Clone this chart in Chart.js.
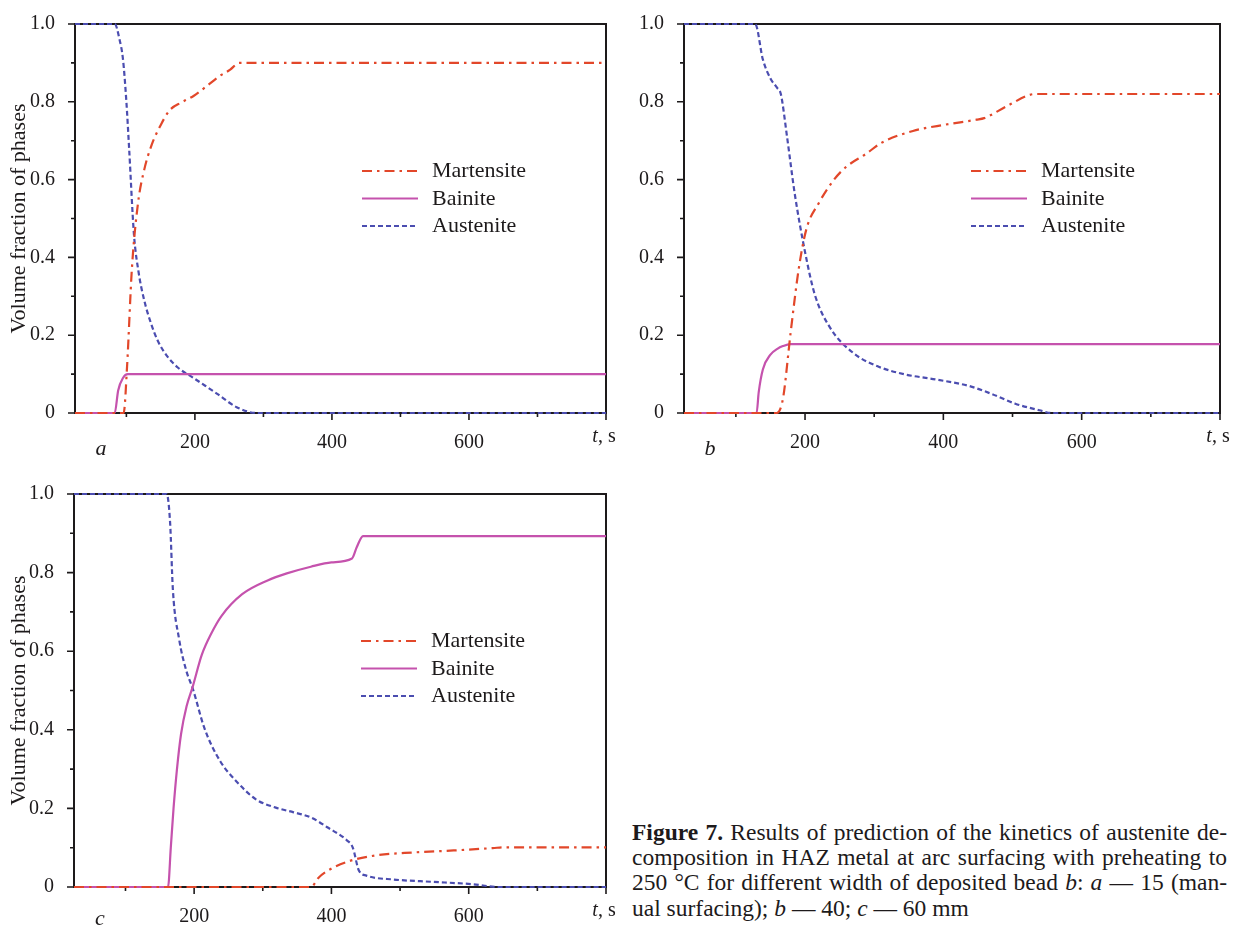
<!DOCTYPE html>
<html>
<head>
<meta charset="utf-8">
<title>Figure 7</title>
<script src="https://cdn.jsdelivr.net/npm/chart.js@4.4.0/dist/chart.umd.min.js"></script>
<style>
  html, body { margin: 0; padding: 0; background: #fff; }
  body { width: 1235px; height: 928px; position: relative; overflow: hidden;
         font-family: 'Liberation Serif', 'Times New Roman', serif; color: #1d1a1b; }
  canvas { position: absolute; }
  .cap { position: absolute; left: 632px; width: 595px; font-size: 23.5px; line-height: 25px; }
  .just { text-align: justify; text-align-last: justify; }
</style>
</head>
<body>
<canvas id="panelA" width="617" height="470" style="left:0;top:0"></canvas>
<canvas id="panelB" width="618" height="470" style="left:617px;top:0"></canvas>
<canvas id="panelC" width="617" height="458" style="left:0;top:470px"></canvas>

<div class="cap just" style="top:820px"><b>Figure 7.</b> Results of prediction of the kinetics of austenite de-</div>
<div class="cap just" style="top:845px">composition in HAZ metal at arc surfacing with preheating to</div>
<div class="cap just" style="top:870px">250 °C for different width of deposited bead <i>b</i>: <i>a</i> — 15 (man-</div>
<div class="cap" style="top:896px">ual surfacing); <i>b</i> — 40; <i>c</i> — 60 mm</div>

<script>
const INK = '#1d1a1b';
const FONT = "'Liberation Serif', 'Times New Roman', serif";
const COLOR_M = '#e2472a';
const COLOR_B = '#c552ad';
const COLOR_A = '#4b4db0';

// Axis ticks: time t, s and volume fraction
const timeTicks = [100, 200, 300, 400, 500, 600, 700, 800];
const timeLabels = [200, 400, 600];
const fracTicks = [0, 0.1, 0.2, 0.3, 0.4, 0.5, 0.6, 0.7, 0.8, 0.9, 1.0];
const fracLabels = ['0', '0.2', '0.4', '0.6', '0.8', '1.0'];
const phaseNames = ['Martensite', 'Bainite', 'Austenite'];

// Panel a: bead width 15 mm (manual surfacing) — [t, fraction]
const martensiteA = [[25,0],[96,0],[101,0.12],[108,0.37],[117,0.54],[126,0.625],[137,0.69],[150,0.74],
  [163,0.778],[180,0.798],[198,0.815],[217,0.84],[235,0.865],[251,0.882],[265,0.9],[800,0.9]];
const bainiteA = [[25,0],[83,0],[88,0.058],[95,0.09],[102,0.1],[800,0.1]];
const austeniteA = [[25,1],[83,1],[90,0.96],[95,0.91],[100,0.8],[104,0.68],[111,0.46],[118,0.36],
  [126,0.29],[136,0.23],[146,0.185],[160,0.145],[175,0.117],[198,0.09],[215,0.07],[232,0.05],
  [261,0.015],[290,0],[800,0]];

// Panel b: bead width 40 mm
const martensiteB = [[25,0],[159,0],[168,0.036],[179,0.204],[191,0.372],[202,0.473],[220,0.54],
  [242,0.6],[259,0.632],[288,0.666],[311,0.695],[356,0.725],[402,0.741],[448,0.754],[459,0.758],
  [493,0.79],[533,0.82],[800,0.82]];
const bainiteB = [[25,0],[130,0],[133,0.053],[139,0.112],[150,0.15],[160,0.165],[168,0.172],
  [179,0.177],[800,0.177]];
const austeniteB = [[25,1],[128,1],[139,0.909],[150,0.86],[160,0.835],[165,0.82],[174,0.71],
  [185,0.565],[200,0.414],[214,0.305],[236,0.22],[270,0.154],[305,0.12],[345,0.099],[390,0.086],
  [436,0.07],[470,0.049],[504,0.024],[539,0.007],[556,0],[800,0]];

// Panel c: bead width 60 mm
const martensiteC = [[25,0],[370,0],[382,0.025],[399,0.046],[428,0.067],[463,0.08],[520,0.088],
  [578,0.093],[635,0.099],[653,0.101],[800,0.101]];
const bainiteC = [[25,0],[162,0],[166,0.1],[170,0.2],[175,0.3],[181,0.39],[189,0.46],[198,0.51],
  [211,0.59],[225,0.645],[240,0.69],[270,0.745],[307,0.78],[335,0.798],[370,0.815],[400,0.826],
  [430,0.836],[437,0.865],[446,0.893],[800,0.893]];
const austeniteC = [[25,1],[160,1],[165,0.927],[169,0.758],[178,0.632],[189,0.548],[198,0.505],
  [215,0.404],[238,0.32],[261,0.27],[290,0.223],[319,0.202],[345,0.19],[370,0.177],[394,0.152],
  [423,0.118],[431,0.101],[440,0.042],[451,0.029],[491,0.019],[549,0.013],[606,0.007],[644,0],[800,0]];

const toPoints = arr => arr.map(([x, y]) => ({x, y}));

// Frame, outward ticks, in-plot legend, panel letter and "t, s" axis label
const panelDecor = {
  id: 'panelDecor',
  beforeDatasetsDraw(chart) {
    const {ctx, chartArea: a, scales: {x, y}} = chart;
    ctx.save();
    ctx.strokeStyle = INK;
    ctx.lineWidth = 1.6;
    ctx.beginPath();
    timeTicks.forEach(v => {
      const px = x.getPixelForValue(v);
      const len = v % 200 === 0 ? 7 : 4;
      ctx.moveTo(px, a.bottom);
      ctx.lineTo(px, a.bottom + len);
    });
    fracTicks.forEach((v, i) => {
      const py = y.getPixelForValue(v);
      const len = i % 2 === 0 ? 7 : 4;
      ctx.moveTo(a.left, py);
      ctx.lineTo(a.left - len, py);
    });
    ctx.stroke();
    ctx.lineWidth = 2;
    ctx.strokeRect(a.left, a.top, a.right - a.left, a.bottom - a.top);
    ctx.restore();
  },
  afterDatasetsDraw(chart, args, opts) {
    const {ctx, chartArea: a, scales: {x}} = chart;
    ctx.save();
    // legend
    chart.data.datasets.forEach((ds, i) => {
      const base = a.top + 153 + i * 27.5;
      ctx.strokeStyle = ds.borderColor;
      ctx.lineWidth = 2.2;
      ctx.setLineDash(ds.borderDash || []);
      ctx.beginPath();
      ctx.moveTo(a.left + 287, base - 6);
      ctx.lineTo(a.left + 343, base - 6);
      ctx.stroke();
      ctx.setLineDash([]);
      ctx.fillStyle = INK;
      ctx.font = `22px ${FONT}`;
      ctx.textBaseline = 'alphabetic';
      ctx.textAlign = 'left';
      ctx.fillText(ds.label, a.left + 357, base);
    });
    // "t, s" at the end of the time axis
    const ts = x.getPixelForValue(800) - 2;
    const yb = a.bottom + 29;
    ctx.fillStyle = INK;
    ctx.font = `italic 20px ${FONT}`;
    const wT = ctx.measureText('t').width;
    ctx.font = `20px ${FONT}`;
    const wS = ctx.measureText(', s').width;
    const x0 = ts - (wT + wS) / 2;
    ctx.font = `italic 20px ${FONT}`;
    ctx.fillText('t', x0, yb);
    ctx.font = `20px ${FONT}`;
    ctx.fillText(', s', x0 + wT, yb);
    // panel letter
    ctx.font = `italic 22px ${FONT}`;
    ctx.textAlign = 'center';
    ctx.fillText(opts.letter, a.left + 26, a.bottom + opts.letterDy);
    ctx.restore();
  }
};

function makePanel(canvasId, letter, letterDy, series, showTitle, box) {
  const styles = [
    {borderColor: COLOR_M, borderDash: [10, 5, 2.5, 5]},
    {borderColor: COLOR_B, borderDash: []},
    {borderColor: COLOR_A, borderDash: [5, 3]}
  ];
  const datasets = series.map((s, i) => ({
    label: phaseNames[i],
    data: toPoints(s),
    borderColor: styles[i].borderColor,
    borderDash: styles[i].borderDash,
    borderWidth: 2.2,
    pointRadius: 0,
    fill: false,
    cubicInterpolationMode: 'monotone',
    clip: 4
  }));
  return new Chart(document.getElementById(canvasId), {
    type: 'line',
    data: {datasets},
    plugins: [panelDecor],
    options: {
      responsive: false,
      animation: false,
      devicePixelRatio: 1,
      layout: {padding: {top: box.top, right: box.right, left: 0, bottom: 0}},
      plugins: {
        legend: {display: false},
        tooltip: {enabled: false},
        panelDecor: {letter, letterDy}
      },
      scales: {
        x: {
          type: 'linear',
          min: 25,
          max: 800,
          grid: {display: false},
          border: {display: false},
          afterBuildTicks: s => { s.ticks = timeTicks.map(v => ({value: v})); },
          afterFit: s => { s.height = box.xHeight; },
          ticks: {
            autoSkip: false,
            maxRotation: 0,
            padding: 10,
            color: INK,
            font: {family: FONT, size: 20},
            callback: v => timeLabels.includes(v) ? String(v) : ''
          }
        },
        y: {
          type: 'linear',
          min: 0,
          max: 1,
          grid: {display: false},
          border: {display: false},
          afterBuildTicks: s => { s.ticks = fracTicks.map(v => ({value: v})); },
          afterFit: s => { s.width = box.yWidth; },
          title: {
            display: showTitle,
            text: 'Volume fraction of phases',
            color: INK,
            font: {family: FONT, size: 22},
            padding: {top: 6, bottom: 0}
          },
          ticks: {
            autoSkip: false,
            padding: 12,
            color: INK,
            font: {family: FONT, size: 20},
            callback: (v, i) => i % 2 === 0 ? fracLabels[i / 2] : ''
          }
        }
      }
    }
  });
}

Chart.defaults.font.family = FONT;
makePanel('panelA', 'a', 42, [martensiteA, bainiteA, austeniteA], true,
  {top: 17, right: 11, yWidth: 75, xHeight: 57});
makePanel('panelB', 'b', 42, [martensiteB, bainiteB, austeniteB], false,
  {top: 17, right: 15, yWidth: 67, xHeight: 57});
makePanel('panelC', 'c', 38, [martensiteC, bainiteC, austeniteC], true,
  {top: 22, right: 11, yWidth: 74, xHeight: 41});
</script>
</body>
</html>
